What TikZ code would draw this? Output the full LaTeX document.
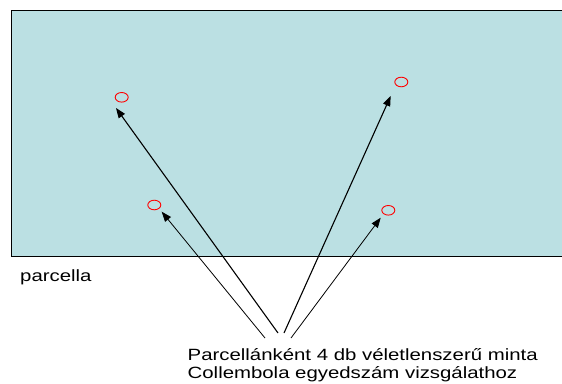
\documentclass[tikz,border=0pt]{standalone}
\usepackage{fontspec}
\setmainfont{Liberation Sans}[FakeStretch=1.25]
\usetikzlibrary{arrows.meta}
\definecolor{plotfill}{RGB}{187,224,227}
\tikzset{
  ring/.style={red, line width=0.9pt},
  spot/.style={inner sep=0pt, minimum width=13pt, minimum height=9.6pt},
  pointer/.style={-{Triangle[length=10pt,width=7.5pt]}, line width=1.1pt, black},
  thinpointer/.style={pointer, line width=0.8pt},
  lbl/.style={inner sep=0pt, font=\fontsize{16.3}{18.3}\selectfont, align=left}
}
\begin{document}
\begin{tikzpicture}[x=1pt,y=-1pt]
\useasboundingbox (0,0) rectangle (562,383);
\fill[white] (0,0) rectangle (562,383);
\draw[fill=plotfill, line width=1pt] (11,10) rectangle (566,256.5);
% sample points
\draw[ring] (121.7,97.3) ellipse [x radius=6.5, y radius=4.8];
\node[spot] (s1) at (121.7,97.3) {};
\draw[ring] (401.3,82) ellipse [x radius=6.5, y radius=4.8];
\node[spot] (s2) at (401.3,82) {};
\draw[ring] (154.3,205) ellipse [x radius=6.5, y radius=4.8];
\node[spot] (s3) at (154.3,205) {};
\draw[ring] (388.3,210.3) ellipse [x radius=6.5, y radius=4.8];
\node[spot] (s4) at (388.3,210.3) {};
% arrow ends
\coordinate (t1) at (278,333);
\coordinate (t2) at (284,333);
\coordinate (t3) at (265,338);
\coordinate (t4) at (291,338);
\coordinate (h1) at (116,108);
\coordinate (h2) at (390.7,96);
\coordinate (h3) at (161.7,211.7);
\coordinate (h4) at (380.7,217.7);
\draw[pointer] (t1) -- (h1);
\draw[pointer] (t2) -- (h2);
\draw[thinpointer] (t3) -- (h3);
\draw[thinpointer] (t4) -- (h4);
% labels
\node[lbl, anchor=base west] (plot) at (20,281) {parcella};
\node[lbl, anchor=base west] (cap) at (187.5,378.3) {Parcellánként 4 db véletlenszerű minta\\Collembola egyedszám vizsgálathoz};
\end{tikzpicture}
\end{document}
